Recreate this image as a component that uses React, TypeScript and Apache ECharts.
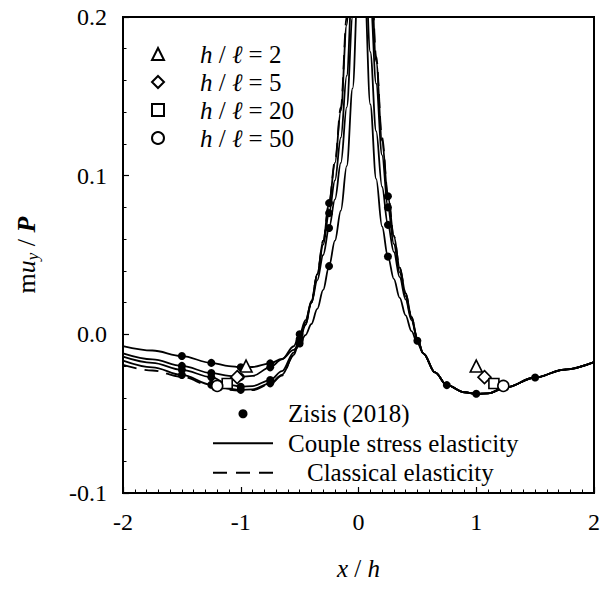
import { useEffect, useRef } from "react";
import * as echarts from "echarts";

// x / h positions shared by every computed curve
const xGrid = [
  -2, -1.75, -1.5, -1.25, -1.1, -1, -0.9, -0.75, -0.65, -0.55, -0.5, -0.45, -0.4, -0.35, -0.3, -0.25, -0.2, -0.15, -0.1, -0.05,
  0, 0.05, 0.1, 0.15, 0.2, 0.25, 0.3, 0.35, 0.4, 0.45, 0.5,
  0.55, 0.65, 0.75, 0.9, 1, 1.1, 1.25, 1.5, 1.75, 2,
];

// common values of every curve for x / h >= 0.55
const rightTail = [-0.012, -0.024, -0.032, -0.0365, -0.0375, -0.0372, -0.0335, -0.0272, -0.0222, -0.0175];

// couple stress elasticity, h / l = 2, 5, 20, 50 (x / h from -2 to 0.5)
const coupleH2 = [
  -0.0074, -0.0102, -0.0137, -0.018, -0.02, -0.0208, -0.0206, -0.0183, -0.0155, -0.0098, -0.0058, -0.0005, 0.0065, 0.016, 0.028, 0.043, 0.059, 0.078, 0.106, 0.155,
  0.23, 0.222, 0.145, 0.098, 0.068, 0.049, 0.035, 0.023, 0.012, 0.002, -0.0055,
];
const coupleH5 = [
  -0.012, -0.0158, -0.0199, -0.0244, -0.0262, -0.0268, -0.0262, -0.0208, -0.0158, -0.0075, 0.0, 0.009, 0.02, 0.034, 0.05, 0.067, 0.085, 0.108, 0.143, 0.2,
  0.265, 0.245, 0.178, 0.128, 0.093, 0.069, 0.052, 0.036, 0.022, 0.009, -0.003,
];
const coupleH20 = [
  -0.0141, -0.018, -0.0224, -0.027, -0.0318, -0.033, -0.0326, -0.0288, -0.0232, -0.0115, -0.003, 0.0075, 0.021, 0.038, 0.0565, 0.0764, 0.097, 0.124, 0.163, 0.225,
  0.3, 0.28, 0.213, 0.158, 0.113, 0.08, 0.057, 0.039, 0.024, 0.01, -0.003,
];
const coupleH50 = [
  -0.0166, -0.0208, -0.0256, -0.0318, -0.0343, -0.035, -0.0347, -0.0309, -0.0255, -0.013, -0.004, 0.006, 0.02, 0.038, 0.059, 0.0827, 0.108, 0.141, 0.195, 0.28,
  0.4, 0.33, 0.24, 0.172, 0.122, 0.087, 0.062, 0.042, 0.026, 0.011, -0.003,
];
// classical elasticity (x / h from -2 to 0.5)
const classical = [
  -0.0193, -0.0228, -0.0268, -0.0325, -0.035, -0.0355, -0.0352, -0.0314, -0.026, -0.0133, -0.0042, 0.006, 0.02, 0.038, 0.059, 0.083, 0.109, 0.143, 0.2, 0.29,
  0.45, 0.34, 0.245, 0.175, 0.124, 0.088, 0.062, 0.042, 0.026, 0.011, -0.003,
];

// Zisis (2018) data points
const zisisX = [
  -1.5, -1.5, -1.5, -1.5, -1.25, -1.25, -1.25, -1.25, -1, -1, -1, -1, -0.75, -0.75, -0.75, -0.75,
  -0.5, -0.5, -0.5, -0.5, -0.25, -0.25, -0.25, -0.25, 0.25, 0.25, 0.25, 0.25, 0.5, 0.75, 1, 1.5,
];
const zisisY = [
  -0.0137, -0.0199, -0.0224, -0.0256, -0.018, -0.0244, -0.027, -0.0318, -0.0208, -0.0268, -0.033, -0.035, -0.0183, -0.0208, -0.0288, -0.0309,
  -0.0058, 0.0, -0.003, -0.004, 0.043, 0.067, 0.0764, 0.0827, 0.049, 0.069, 0.08, 0.087, -0.004, -0.032, -0.0375, -0.0272,
];

// location of the minimum marked for each h / l
const ratioLabels = ["2", "5", "20", "50"];
const minMarkX = [
  [-0.955, 1.0],
  [-1.03, 1.07],
  [-1.115, 1.15],
  [-1.2, 1.23],
];
const minMarkY = [-0.02, -0.027, -0.031, -0.0325];

const xTicks = [-2, -1, 0, 1, 2];
const yTicks = [-0.1, 0.0, 0.1, 0.2];

const SERIF = '"Liberation Serif", "DejaVu Serif", "Times New Roman", serif';
const BLACK = "#000";

const markerShapes = ["triangle", "diamond", "rect", "circle"];
const markerSizes = [12, 13, 10, 11];

// legend keys drawn as a solid stroke and as a three-dash stroke
const SOLID_KEY = "path://M0,0H60V2H0Z";
const DASH_KEY = "path://M0,0H14V2H0Z M23,0H37V2H23Z M46,0H60V2H46Z";

export default function App() {
  const ref = useRef<HTMLDivElement>(null);

  useEffect(() => {
    document.body.style.margin = "0";
    const chart = echarts.init(ref.current!, null, { renderer: "svg" });

    const curve = (ys: number[]) => {
      const full = [...ys, ...rightTail];
      return xGrid.map((x, i) => [x, full[i]]);
    };
    const ratioName = (r: string) => `h / ℓ = ${r}`;

    const lineBase = {
      type: "line",
      symbol: "none",
      showSymbol: false,
      smooth: 0.35,
      smoothMonotone: "x",
      itemStyle: { color: BLACK, opacity: 1 },
      silent: true,
    };

    const coupleSeries = [coupleH2, coupleH5, coupleH20, coupleH50].map((ys) => ({
      ...lineBase,
      name: "Couple stress elasticity",
      data: curve(ys),
      lineStyle: { color: BLACK, width: 1.8, opacity: 1 },
      z: 3,
    }));

    const markerSeries = ratioLabels.map((r, k) => ({
      name: ratioName(r),
      type: "scatter",
      data: minMarkX[k].map((x) => [x, minMarkY[k]]),
      symbol: markerShapes[k],
      symbolSize: markerSizes[k],
      itemStyle: { color: "#fff", borderColor: BLACK, borderWidth: 1.6, opacity: 1 },
      z: 6,
      silent: true,
    }));

    const option = {
      animation: false,
      backgroundColor: "#fff",
      grid: {
        left: 123,
        top: 17,
        width: 471,
        height: 476,
        show: true,
        borderColor: BLACK,
        borderWidth: 2,
        backgroundColor: "transparent",
      },
      legend: [
        {
          data: ratioLabels.map(ratioName),
          orient: "vertical",
          left: 151,
          top: 40,
          padding: 0,
          itemWidth: 12,
          itemHeight: 12,
          itemGap: 0,
          selectedMode: false,
          formatter: (n: string) => `{g|}{i|h}{t| / }{i|ℓ}{t| = ${n.split("= ")[1]}}`,
          textStyle: {
            fontFamily: SERIF,
            fontSize: 25,
            color: BLACK,
            lineHeight: 28,
            rich: {
              g: { width: 31 },
              i: { fontFamily: SERIF, fontSize: 25, fontStyle: "italic", color: BLACK, lineHeight: 28 },
              t: { fontFamily: SERIF, fontSize: 25, color: BLACK, lineHeight: 28 },
            },
          },
        },
        {
          data: [
            { name: "Zisis (2018)", icon: "circle" },
            { name: "Couple stress elasticity", icon: SOLID_KEY },
            { name: "Classical elasticity", icon: DASH_KEY },
          ],
          orient: "vertical",
          left: 213,
          top: 399,
          padding: 0,
          itemWidth: 60,
          itemHeight: 9,
          itemGap: 0,
          selectedMode: false,
          itemStyle: { color: BLACK, borderWidth: 0 },
          formatter: (n: string) => (n === "Classical elasticity" ? `{g2|}{t|${n}}` : `{g|}{t|${n}}`),
          textStyle: {
            fontFamily: SERIF,
            fontSize: 25,
            color: BLACK,
            lineHeight: 29.5,
            rich: {
              g: { width: 10 },
              g2: { width: 29 },
              t: { fontFamily: SERIF, fontSize: 25, color: BLACK, lineHeight: 29.5 },
            },
          },
        },
      ],
      xAxis: {
        type: "value",
        min: xTicks[0],
        max: xTicks[xTicks.length - 1],
        interval: 1,
        name: "{i|x}{t| / }{i|h}",
        nameLocation: "middle",
        nameGap: 63,
        nameTextStyle: {
          rich: {
            i: { fontFamily: SERIF, fontSize: 25, fontStyle: "italic", color: BLACK },
            t: { fontFamily: SERIF, fontSize: 25, color: BLACK },
          },
        },
        axisLine: { show: true, onZero: false, lineStyle: { color: BLACK, width: 2 } },
        axisTick: { show: true, inside: true, length: 6, lineStyle: { color: BLACK, width: 1.2 } },
        minorTick: { show: true, splitNumber: 10, length: 3.5, lineStyle: { color: BLACK, width: 1 } },
        splitLine: { show: false },
        axisLabel: {
          fontFamily: SERIF,
          fontSize: 24,
          color: BLACK,
          margin: 17,
          formatter: (v: number) => `${v}`,
        },
      },
      yAxis: {
        type: "value",
        min: yTicks[0],
        max: yTicks[yTicks.length - 1],
        interval: 0.1,
        name: "{m|m}{u|u}{s|y}{t| / }{p|P}",
        nameLocation: "middle",
        nameGap: 82,
        nameTextStyle: {
          rich: {
            m: { fontFamily: SERIF, fontSize: 26, color: BLACK, lineHeight: 30 },
            u: { fontFamily: SERIF, fontSize: 26, fontStyle: "italic", color: BLACK, lineHeight: 30 },
            s: { fontFamily: SERIF, fontSize: 17, fontStyle: "italic", color: BLACK, lineHeight: 14, verticalAlign: "bottom" },
            t: { fontFamily: SERIF, fontSize: 26, color: BLACK, lineHeight: 30 },
            p: { fontFamily: SERIF, fontSize: 26, fontStyle: "italic", fontWeight: "bold", color: BLACK, lineHeight: 30 },
          },
        },
        axisLine: { show: true, onZero: false, lineStyle: { color: BLACK, width: 2 } },
        axisTick: { show: true, inside: true, length: 6, lineStyle: { color: BLACK, width: 1.2 } },
        minorTick: { show: true, splitNumber: 5, length: 3.5, lineStyle: { color: BLACK, width: 1 } },
        splitLine: { show: false },
        axisLabel: {
          fontFamily: SERIF,
          fontSize: 24,
          color: BLACK,
          margin: 16,
          formatter: (v: number) => v.toFixed(1),
        },
      },
      series: [
        {
          ...lineBase,
          name: "Classical elasticity",
          data: curve(classical),
          lineStyle: { color: BLACK, width: 1.8, type: [14, 8], opacity: 1 },
          z: 2,
        },
        ...coupleSeries,
        {
          name: "Zisis (2018)",
          type: "scatter",
          data: zisisX.map((x, i) => [x, zisisY[i]]),
          symbol: "circle",
          symbolSize: 8,
          itemStyle: { color: BLACK, opacity: 1 },
          z: 4,
          silent: true,
        },
        ...markerSeries,
      ],
    };

    chart.setOption(option as any);
    return () => chart.dispose();
  }, []);

  return <div ref={ref} style={{ width: 608, height: 591 }} />;
}
